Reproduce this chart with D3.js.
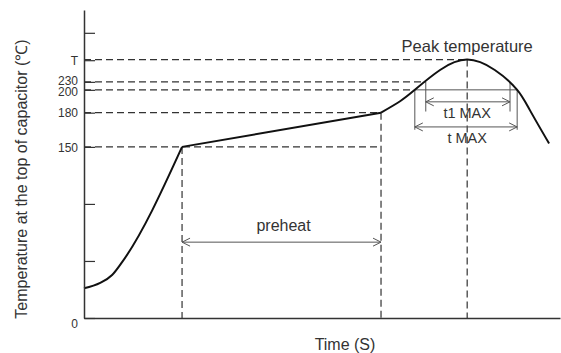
<!DOCTYPE html>
<html>
<head>
<meta charset="utf-8">
<script src="https://cdn.jsdelivr.net/npm/d3@7"></script>
<style>
  body { margin: 0; background: #fff; }
  text { font-family: "Liberation Sans", Arial, sans-serif; fill: #333; }
</style>
</head>
<body>
<svg width="561" height="353"></svg>
<script>
// Schematic reflow profile - time in arbitrary units (0..100), temperature in schematic units
let rampCurve = [[0, 26], [3.4, 30.7], [5.9, 37.7], [8, 49], [20.6, 150]];
let soakLine = [[20.6, 150], [62.4, 180]];
let reflowCurve = [[62.4, 180], [66.4, 190], [69.5, 200], [74.8, 217.4],
                   [80.5, 226.5], [86.3, 217.4], [91, 200], [93.7, 182], [97.7, 153]];

// Y ticks (schematic positions) and their labels
let yTickValues = [0, 50, 100, 150, 180, 200, 207, 226, 250];
let yTickLabels = ['0', '', '', '150', '180', '200', '230', 'T', ''];

// Key times
let preheatStart = 20.6, preheatEnd = 62.4, peakTime = 80.5;
let tMax = [69.5, 91];
let t1Max = [71.8, 89.5];

// Key temperature levels
let levelT = 226.5, level230 = 207, level200 = 200, level180 = 180, level150 = 150;

let svg = d3.select('svg');
let margin = { top: 10, right: 1, bottom: 35, left: 84 };
let width = +svg.attr('width');
let height = +svg.attr('height');

let x = d3.scaleLinear().domain([0, 100]).range([margin.left, width - margin.right]);
let y = d3.scaleLinear().domain([0, 270]).range([height - margin.bottom, margin.top]);

// arrow heads (open chevrons)
svg.append('defs').append('marker')
    .attr('id', 'chev')
    .attr('viewBox', '-10 -6 12 12')
    .attr('refX', 0).attr('refY', 0)
    .attr('markerWidth', 12).attr('markerHeight', 12)
    .attr('markerUnits', 'userSpaceOnUse')
    .attr('orient', 'auto-start-reverse')
    .append('path')
    .attr('d', 'M-8,-4L0,0L-8,4')
    .attr('fill', 'none')
    .attr('stroke', '#555')
    .attr('stroke-width', 1);

// Dashed guides
let dash = svg.append('g')
    .attr('stroke', '#333')
    .attr('stroke-width', 1.2)
    .attr('stroke-dasharray', '7,4')
    .attr('fill', 'none');

let hGuides = [[levelT, peakTime], [level230, t1Max[0]], [level200, tMax[0]], [level180, preheatEnd], [level150, preheatEnd]];
hGuides.forEach(g => dash.append('line')
    .attr('x1', x(0)).attr('x2', x(g[1]))
    .attr('y1', y(g[0])).attr('y2', y(g[0])));

let vGuides = [[preheatStart, level150], [preheatEnd, level180], [peakTime, levelT]];
vGuides.forEach(g => dash.append('line')
    .attr('x1', x(g[0])).attr('x2', x(g[0]))
    .attr('y1', y(g[1])).attr('y2', y(0)));

// Dimension lines
let dim = svg.append('g').attr('stroke', '#555').attr('stroke-width', 1).attr('fill', 'none');

dim.append('line')
    .attr('x1', x(tMax[0])).attr('x2', x(tMax[1]))
    .attr('y1', y(level200)).attr('y2', y(level200));

t1Max.forEach(t => dim.append('line')
    .attr('x1', x(t)).attr('x2', x(t))
    .attr('y1', y(level230)).attr('y2', y(181)));
tMax.forEach(t => dim.append('line')
    .attr('x1', x(t)).attr('x2', x(t))
    .attr('y1', y(level200)).attr('y2', y(165)));

function arrow(a, b, v) {
    dim.append('line')
        .attr('x1', x(a)).attr('x2', x(b))
        .attr('y1', y(v)).attr('y2', y(v))
        .attr('marker-start', 'url(#chev)')
        .attr('marker-end', 'url(#chev)');
}
arrow(t1Max[0], t1Max[1], 189.5);
arrow(tMax[0], tMax[1], 167.5);
arrow(preheatStart, preheatEnd, 66.5);

// Profile curve
let line = d3.line().x(d => x(d[0])).y(d => y(d[1]));
let prof = svg.append('g').attr('stroke', '#111').attr('stroke-width', 2).attr('fill', 'none');
prof.append('path').attr('d', line.curve(d3.curveMonotoneX)(rampCurve));
prof.append('path').attr('d', line.curve(d3.curveLinear)(soakLine));
prof.append('path').attr('d', line.curve(d3.curveNatural)(reflowCurve));

// Axes
let yAxis = svg.append('g')
    .attr('transform', 'translate(' + margin.left + ',0)')
    .call(d3.axisLeft(y).tickValues(yTickValues).tickFormat((d, i) => yTickLabels[i])
        .tickSize(-11).tickSizeOuter(0).tickPadding(6));
yAxis.select('.domain').attr('stroke', '#333').attr('stroke-width', 1.5);
yAxis.selectAll('.tick line').attr('stroke', '#333').attr('stroke-width', 1.2);
yAxis.selectAll('.tick text')
    .attr('font-size', '12px')
    .attr('fill', '#333')
    .attr('font-family', '"Liberation Sans", Arial, sans-serif')
    .attr('dy', (d, i) => i === 0 ? '0.75em' : (i === 5 ? '0.5em' : (i === 6 ? '0.2em' : '0.35em')));

let xAxis = svg.append('g')
    .attr('transform', 'translate(0,' + y(0) + ')')
    .call(d3.axisBottom(x).tickValues([]).tickSizeOuter(0));
xAxis.select('.domain').attr('stroke', '#333').attr('stroke-width', 1.5);

// Labels
svg.append('text')
    .attr('text-anchor', 'middle')
    .attr('transform', 'translate(' + (margin.left - 57) + ',' + 179 + ')rotate(-90)')
    .attr('font-size', '16px')
    .text('Temperature at the top of capacitor (\u2103)');

svg.append('text')
    .attr('text-anchor', 'middle')
    .attr('x', 345).attr('y', height - 3)
    .attr('font-size', '16px')
    .text('Time (S)');

svg.append('text')
    .attr('text-anchor', 'middle')
    .attr('x', x(peakTime)).attr('y', y(levelT) - 8)
    .attr('font-size', '16.5px')
    .text('Peak temperature');

svg.append('text')
    .attr('text-anchor', 'middle')
    .attr('x', x(peakTime)).attr('y', y(189.5) + 16)
    .attr('font-size', '14.5px')
    .text('t1 MAX');

svg.append('text')
    .attr('text-anchor', 'middle')
    .attr('x', x(peakTime)).attr('y', y(167.5) + 16)
    .attr('font-size', '14.5px')
    .text('t MAX');

svg.append('text')
    .attr('text-anchor', 'middle')
    .attr('x', (x(preheatStart) + x(preheatEnd)) / 2 + 2).attr('y', y(66.5) - 11)
    .attr('font-size', '16px')
    .text('preheat');
</script>
</body>
</html>
